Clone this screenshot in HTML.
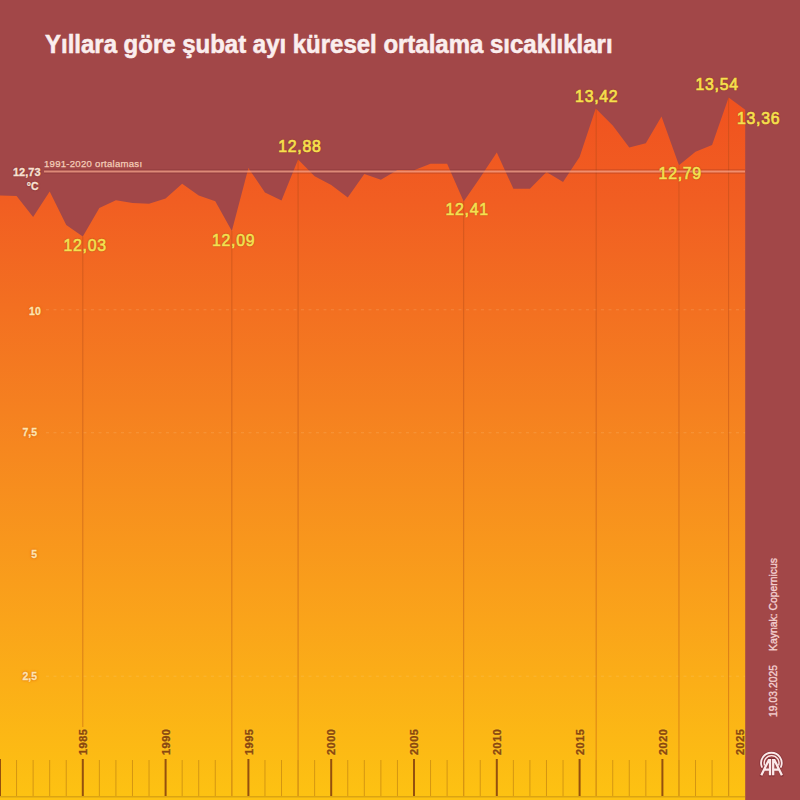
<!DOCTYPE html>
<html><head><meta charset="utf-8"><style>
html,body{margin:0;padding:0}
body{width:800px;height:800px;overflow:hidden;background:#a24748;position:relative;font-family:"Liberation Sans",sans-serif}
svg{position:absolute;left:0;top:0}
.t{position:absolute;left:45px;top:30px;color:#fbeeee;font-weight:bold;font-size:25.5px;white-space:nowrap;letter-spacing:0px;transform-origin:0 0;transform:scaleX(0.94);-webkit-text-stroke:0.55px #fbeeee}
.dl{position:absolute;color:#f6e050;font-weight:normal;font-size:15.8px;line-height:1;white-space:nowrap;letter-spacing:0.75px;
 -webkit-text-stroke:0.7px #f6e050;text-shadow:0 0 1.5px #8a3010,0 0 1px #8a3010}
.yl{position:absolute;color:#fee4b0;font-weight:bold;font-size:10.5px;line-height:1;white-space:nowrap;text-align:right;width:40px;text-shadow:0 0 1.5px #d2600f,0 0 3px #e06a12;-webkit-text-stroke:0.3px #fee4b0}
.yr{position:absolute;color:#8a470e;font-size:11px;font-weight:bold;line-height:1;white-space:nowrap;letter-spacing:0.45px;-webkit-text-stroke:0.35px #8a470e;text-shadow:0 0 2px #ffd040;transform-origin:0 0;transform:rotate(-90deg) translate(0,-50%)}
.side{position:absolute;color:#f4d0d0;font-size:10.4px;line-height:1;white-space:nowrap;transform-origin:0 0;transform:rotate(-90deg);-webkit-text-stroke:0.35px #f4d0d0}
.ref{position:absolute;color:#f4cdb8;font-size:9.6px;line-height:1;white-space:nowrap;letter-spacing:0.25px;-webkit-text-stroke:0.25px #f4cdb8}
.c{position:absolute;color:#fae0d2;font-weight:bold;font-size:11px;line-height:1;white-space:nowrap;text-align:right;-webkit-text-stroke:0.35px #fae0d2;text-shadow:0 0 1px #6e2226,0 0 2px #7a2a2e}
</style></head><body>
<svg width="800" height="800" viewBox="0 0 800 800">
<defs><linearGradient id="g" x1="0" y1="97" x2="0" y2="797" gradientUnits="userSpaceOnUse">
<stop offset="0" stop-color="#f0521f"/>
<stop offset="0.15" stop-color="#f15e22"/>
<stop offset="0.45" stop-color="#f58120"/>
<stop offset="0.75" stop-color="#faa41a"/>
<stop offset="1" stop-color="#fdc212"/>
</linearGradient></defs>
<path d="M0,800 L0.00,195.60 16.56,196.00 33.12,216.90 49.68,191.50 66.24,225.00 82.80,236.50 99.36,208.00 115.92,200.25 132.48,203.00 149.04,203.75 165.60,198.50 182.16,183.75 198.72,195.60 215.28,201.25 231.84,231.00 248.40,168.10 264.96,192.50 281.52,200.60 298.08,159.40 314.64,176.25 331.20,185.00 347.76,197.50 364.32,174.00 380.88,179.75 397.44,170.00 414.00,170.25 430.56,163.75 447.12,163.75 463.68,201.50 480.24,177.50 496.80,152.50 513.36,188.75 529.92,188.75 546.48,171.90 563.04,182.00 579.60,157.00 595.76,108.50 612.72,125.60 629.28,147.50 645.84,143.30 661.50,116.40 678.96,165.25 695.52,151.75 712.08,145.00 728.64,97.50 745.20,109.75 L745.20,800 Z" fill="url(#g)"/>
<line x1="46" y1="309.75" x2="745" y2="309.75" stroke="#ffdca8" stroke-opacity="0.2" stroke-width="1" stroke-dasharray="3 4.5"/>
<line x1="46" y1="432.75" x2="745" y2="432.75" stroke="#ffdca8" stroke-opacity="0.2" stroke-width="1" stroke-dasharray="3 4.5"/>
<line x1="46" y1="676.2" x2="745" y2="676.2" stroke="#ffdca8" stroke-opacity="0.2" stroke-width="1" stroke-dasharray="3 4.5"/>
<line x1="82.80" y1="236.50" x2="82.80" y2="727" stroke="#b04a18" stroke-opacity="0.45" stroke-width="1"/>
<line x1="231.84" y1="231.00" x2="231.84" y2="796" stroke="#b04a18" stroke-opacity="0.45" stroke-width="1"/>
<line x1="298.08" y1="159.40" x2="298.08" y2="796" stroke="#b04a18" stroke-opacity="0.45" stroke-width="1"/>
<line x1="463.68" y1="201.50" x2="463.68" y2="796" stroke="#b04a18" stroke-opacity="0.45" stroke-width="1"/>
<line x1="596.16" y1="108.50" x2="596.16" y2="796" stroke="#b04a18" stroke-opacity="0.45" stroke-width="1"/>
<line x1="678.96" y1="165.25" x2="678.96" y2="796" stroke="#b04a18" stroke-opacity="0.45" stroke-width="1"/>
<line x1="728.64" y1="97.50" x2="728.64" y2="796" stroke="#b04a18" stroke-opacity="0.45" stroke-width="1"/>
<line x1="44" y1="171.4" x2="745" y2="171.4" stroke="#6a1e20" stroke-opacity="0.22" stroke-width="4.5"/><line x1="44" y1="171.4" x2="745" y2="171.4" stroke="#ffae94" stroke-opacity="0.68" stroke-width="2"/>
<line x1="0.00" y1="759" x2="0.00" y2="796.5" stroke="#94500e" stroke-width="2"/>
<line x1="16.56" y1="760" x2="16.56" y2="796.5" stroke="#d49612" stroke-width="1"/>
<line x1="33.12" y1="760" x2="33.12" y2="796.5" stroke="#d49612" stroke-width="1"/>
<line x1="49.68" y1="760" x2="49.68" y2="796.5" stroke="#d49612" stroke-width="1"/>
<line x1="66.24" y1="760" x2="66.24" y2="796.5" stroke="#d49612" stroke-width="1"/>
<line x1="82.80" y1="759" x2="82.80" y2="796.5" stroke="#94500e" stroke-width="2"/>
<line x1="99.36" y1="760" x2="99.36" y2="796.5" stroke="#d49612" stroke-width="1"/>
<line x1="115.92" y1="760" x2="115.92" y2="796.5" stroke="#d49612" stroke-width="1"/>
<line x1="132.48" y1="760" x2="132.48" y2="796.5" stroke="#d49612" stroke-width="1"/>
<line x1="149.04" y1="760" x2="149.04" y2="796.5" stroke="#d49612" stroke-width="1"/>
<line x1="165.60" y1="759" x2="165.60" y2="796.5" stroke="#94500e" stroke-width="2"/>
<line x1="182.16" y1="760" x2="182.16" y2="796.5" stroke="#d49612" stroke-width="1"/>
<line x1="198.72" y1="760" x2="198.72" y2="796.5" stroke="#d49612" stroke-width="1"/>
<line x1="215.28" y1="760" x2="215.28" y2="796.5" stroke="#d49612" stroke-width="1"/>
<line x1="231.84" y1="760" x2="231.84" y2="796.5" stroke="#d49612" stroke-width="1"/>
<line x1="248.40" y1="759" x2="248.40" y2="796.5" stroke="#94500e" stroke-width="2"/>
<line x1="264.96" y1="760" x2="264.96" y2="796.5" stroke="#d49612" stroke-width="1"/>
<line x1="281.52" y1="760" x2="281.52" y2="796.5" stroke="#d49612" stroke-width="1"/>
<line x1="298.08" y1="760" x2="298.08" y2="796.5" stroke="#d49612" stroke-width="1"/>
<line x1="314.64" y1="760" x2="314.64" y2="796.5" stroke="#d49612" stroke-width="1"/>
<line x1="331.20" y1="759" x2="331.20" y2="796.5" stroke="#94500e" stroke-width="2"/>
<line x1="347.76" y1="760" x2="347.76" y2="796.5" stroke="#d49612" stroke-width="1"/>
<line x1="364.32" y1="760" x2="364.32" y2="796.5" stroke="#d49612" stroke-width="1"/>
<line x1="380.88" y1="760" x2="380.88" y2="796.5" stroke="#d49612" stroke-width="1"/>
<line x1="397.44" y1="760" x2="397.44" y2="796.5" stroke="#d49612" stroke-width="1"/>
<line x1="414.00" y1="759" x2="414.00" y2="796.5" stroke="#94500e" stroke-width="2"/>
<line x1="430.56" y1="760" x2="430.56" y2="796.5" stroke="#d49612" stroke-width="1"/>
<line x1="447.12" y1="760" x2="447.12" y2="796.5" stroke="#d49612" stroke-width="1"/>
<line x1="463.68" y1="760" x2="463.68" y2="796.5" stroke="#d49612" stroke-width="1"/>
<line x1="480.24" y1="760" x2="480.24" y2="796.5" stroke="#d49612" stroke-width="1"/>
<line x1="496.80" y1="759" x2="496.80" y2="796.5" stroke="#94500e" stroke-width="2"/>
<line x1="513.36" y1="760" x2="513.36" y2="796.5" stroke="#d49612" stroke-width="1"/>
<line x1="529.92" y1="760" x2="529.92" y2="796.5" stroke="#d49612" stroke-width="1"/>
<line x1="546.48" y1="760" x2="546.48" y2="796.5" stroke="#d49612" stroke-width="1"/>
<line x1="563.04" y1="760" x2="563.04" y2="796.5" stroke="#d49612" stroke-width="1"/>
<line x1="579.60" y1="759" x2="579.60" y2="796.5" stroke="#94500e" stroke-width="2"/>
<line x1="596.16" y1="760" x2="596.16" y2="796.5" stroke="#d49612" stroke-width="1"/>
<line x1="612.72" y1="760" x2="612.72" y2="796.5" stroke="#d49612" stroke-width="1"/>
<line x1="629.28" y1="760" x2="629.28" y2="796.5" stroke="#d49612" stroke-width="1"/>
<line x1="645.84" y1="760" x2="645.84" y2="796.5" stroke="#d49612" stroke-width="1"/>
<line x1="662.40" y1="759" x2="662.40" y2="796.5" stroke="#94500e" stroke-width="2"/>
<line x1="678.96" y1="760" x2="678.96" y2="796.5" stroke="#d49612" stroke-width="1"/>
<line x1="695.52" y1="760" x2="695.52" y2="796.5" stroke="#d49612" stroke-width="1"/>
<line x1="712.08" y1="760" x2="712.08" y2="796.5" stroke="#d49612" stroke-width="1"/>
<line x1="728.64" y1="760" x2="728.64" y2="796.5" stroke="#d49612" stroke-width="1"/>
<line x1="0" y1="796.8" x2="745" y2="796.8" stroke="#dca412" stroke-width="1.4"/>
</svg>
<div class="t">Yıllara göre şubat ayı küresel ortalama sıcaklıkları</div>
<div class="ref" style="left:44px;top:158.8px">1991-2020 ortalaması</div>
<div class="c" style="left:0;top:166.5px;width:40.5px">12,73</div>
<div class="c" style="left:0;top:180.6px;width:38.5px;font-size:10.5px">°C</div>
<div class="yl" style="left:0.75px;top:305.5px">10</div>
<div class="yl" style="left:-3px;top:427px">7,5</div>
<div class="yl" style="left:-3px;top:549px">5</div>
<div class="yl" style="left:-3px;top:671px">2,5</div>
<div class="dl" style="left:63.5px;top:238.4px">12,03</div><div class="dl" style="left:212.0px;top:233.2px">12,09</div><div class="dl" style="left:278.2px;top:139.1px">12,88</div><div class="dl" style="left:445.5px;top:201.7px">12,41</div><div class="dl" style="left:575.1px;top:89.1px">13,42</div><div class="dl" style="left:658.6px;top:166.3px">12,79</div><div class="dl" style="left:695.5px;top:76.7px">13,54</div><div class="dl" style="left:737.0px;top:111.1px">13,36</div>
<div class="yr" style="left:82.9px;top:755.1px">1985</div><div class="yr" style="left:165.7px;top:755.1px">1990</div><div class="yr" style="left:248.5px;top:755.1px">1995</div><div class="yr" style="left:331.3px;top:755.1px">2000</div><div class="yr" style="left:414.1px;top:755.1px">2005</div><div class="yr" style="left:496.9px;top:755.1px">2010</div><div class="yr" style="left:579.7px;top:755.1px">2015</div><div class="yr" style="left:662.5px;top:755.1px">2020</div><div class="yr" style="left:740.1px;top:755.1px">2025</div>
<div class="side" style="left:769px;top:650.5px">Kaynak: Copernicus</div>
<div class="side" style="left:769px;top:717px">19.03.2025</div>
<svg width="32" height="32" viewBox="0 0 32 32" style="left:756px;top:748px">
<g fill="none" stroke="#7e2c33" stroke-opacity="0.55" stroke-width="3.6" stroke-linecap="round">
<path d="M5.85,18.9 A10.3,10.3 0 1 1 24.95,18.9"/>
<path d="M5.3,27.2 L13.1,11.4 M14,11.4 L14,27.2 M17.2,11.4 L17.2,27.2 M18.1,11.4 L25.9,27.2"/>
</g>
<g fill="none" stroke="#fbeaea" stroke-width="1.8" stroke-linecap="round">
<path d="M5.85,18.9 A10.3,10.3 0 1 1 24.95,18.9"/>
</g>
<g fill="none" stroke="#fbeaea" stroke-width="1.4">
<path d="M8.6,17.4 A7.4,7.4 0 1 1 22.6,17.4"/>
</g>
<g fill="none" stroke="#7e2c33" stroke-opacity="0.8" stroke-width="1">
<path d="M11.5,10.6 L19.7,10.6"/>
</g>
<g fill="none" stroke="#fbeaea" stroke-width="2.3" stroke-linecap="butt">
<path d="M5.3,27.2 L13.1,11.4 M14,11.1 L14,27.2 M7.9,21.6 L14,21.6"/>
<path d="M17.2,11.1 L17.2,27.2 M18.1,11.4 L25.9,27.2 M17.2,21.6 L23.2,21.6"/>
<path d="M12.6,11.6 L14.6,11.6 M16.6,11.6 L18.6,11.6" stroke-width="1.2"/>
</g>
</svg>
</body></html>
